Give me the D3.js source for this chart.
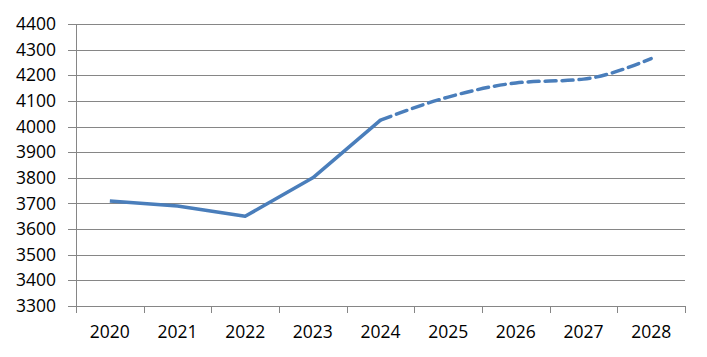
<!doctype html>
<html>
<head>
<meta charset="utf-8">
<script src="https://d3js.org/d3.v7.min.js"></script>
<style>
  body { margin: 0; background: #fff; }
  text { font-family: "Open Sans", sans-serif; font-size: 17.5px; fill: #000; }
</style>
</head>
<body>
<svg id="chart" width="707" height="357"></svg>
<script>
  const years = ['2020', '2021', '2022', '2023', '2024', '2025', '2026', '2027', '2028'];
  const actual = [3710, 3690, 3650, 3800, 4025];
  const forecast = [4025, 4115, 4170, 4185, 4265];
  const yTicks = d3.range(3300, 4401, 100);

  const margin = { top: 24, right: 22, bottom: 51, left: 76 };
  const width = 707 - margin.left - margin.right;
  const height = 357 - margin.top - margin.bottom;

  const svg = d3.select('#chart');
  const g = svg.append('g')
    .attr('transform', `translate(${margin.left},${margin.top})`);

  const x = d3.scaleBand().domain(years).range([0, width]);
  const y = d3.scaleLinear().domain([3300, 4400]).range([height, 0]);
  const cx = d => x(d) + x.bandwidth() / 2;

  // gridlines with short ticks to the left
  g.append('g')
    .selectAll('line')
    .data(yTicks)
    .join('line')
    .attr('x1', -8)
    .attr('x2', width)
    .attr('y1', d => Math.round(y(d)) + 0.5)
    .attr('y2', d => Math.round(y(d)) + 0.5)
    .attr('stroke', '#868686');

  g.append('g')
    .selectAll('text')
    .data(yTicks)
    .join('text')
    .attr('x', -20)
    .attr('y', d => y(d))
    .attr('dy', '0.35em')
    .attr('text-anchor', 'end')
    .text(d => d);

  // y axis line
  g.append('line')
    .attr('x1', 0.5).attr('x2', 0.5)
    .attr('y1', 0).attr('y2', height)
    .attr('stroke', '#868686');

  // x category ticks
  const xb = years.map(d => x(d)).concat([width]);
  g.append('g')
    .selectAll('line')
    .data(xb)
    .join('line')
    .attr('x1', d => Math.round(d) + 0.5)
    .attr('x2', d => Math.round(d) + 0.5)
    .attr('y1', height)
    .attr('y2', height + 7)
    .attr('stroke', '#868686');

  g.append('g')
    .selectAll('text')
    .data(years)
    .join('text')
    .attr('x', d => cx(d))
    .attr('y', height + 26)
    .attr('dy', '0.35em')
    .attr('text-anchor', 'middle')
    .text(d => d);

  const line = d3.line()
    .x((d, i) => cx(years[i]))
    .y(d => y(d));

  g.append('path')
    .datum(actual)
    .attr('d', line)
    .attr('fill', 'none')
    .attr('stroke', '#4a7ebb')
    .attr('stroke-width', 3.5)
    .attr('stroke-linejoin', 'round');

  const line2 = d3.line()
    .x((d, i) => cx(years[i + 4]))
    .y(d => y(d))
    .curve(d3.curveMonotoneX);

  g.append('path')
    .datum(forecast)
    .attr('d', line2)
    .attr('fill', 'none')
    .attr('stroke', '#4a7ebb')
    .attr('stroke-width', 3.5)
    .attr('stroke-dasharray', '11,6')
    .attr('stroke-linecap', 'round');
</script>
</body>
</html>
